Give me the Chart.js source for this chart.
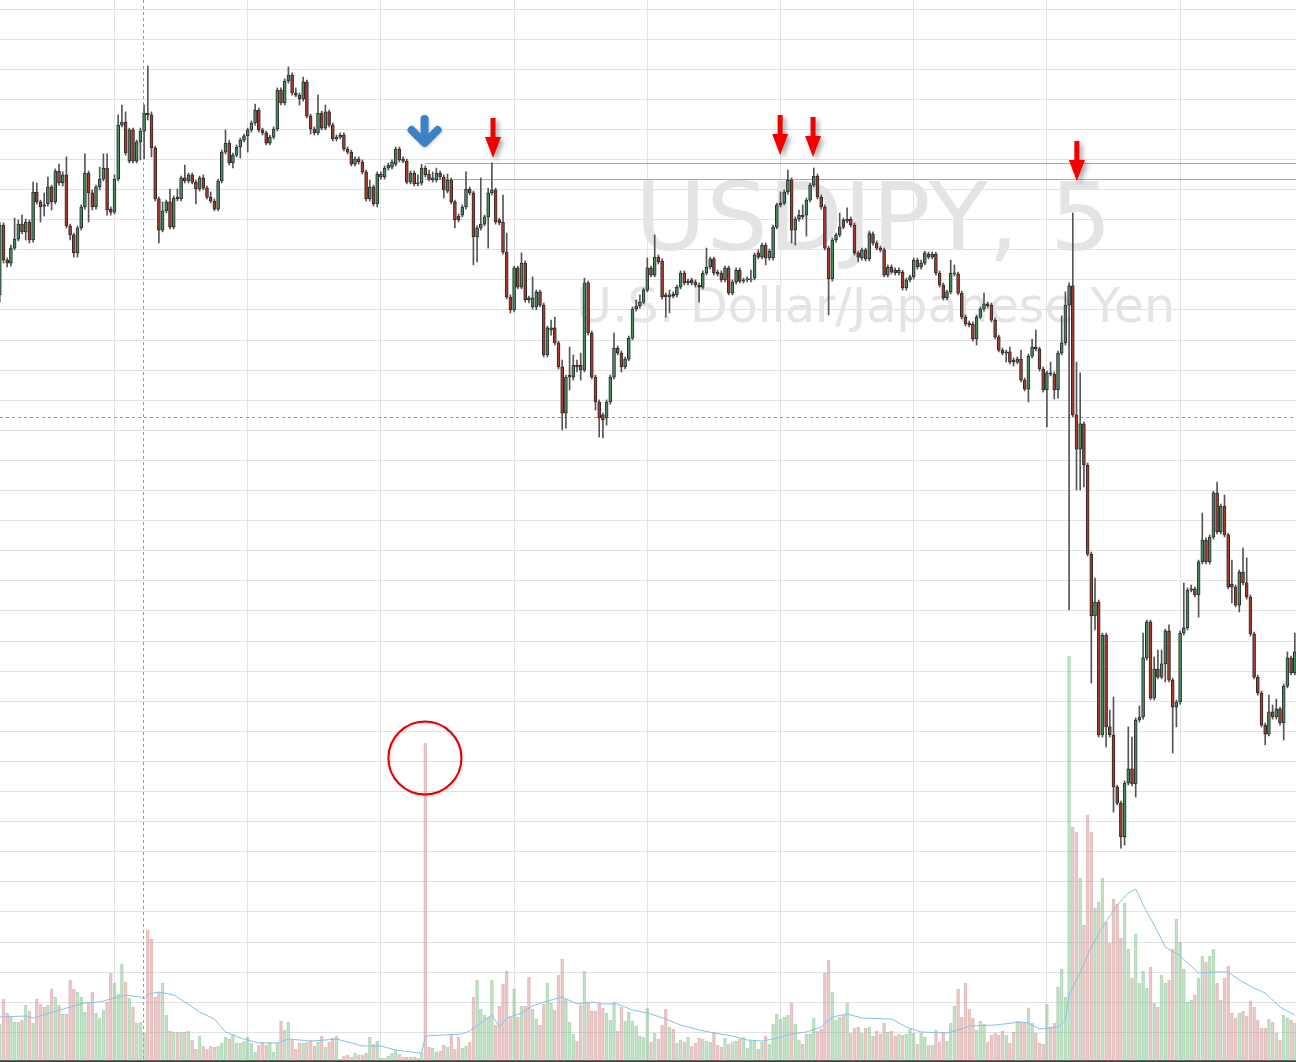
<!DOCTYPE html>
<html><head><meta charset="utf-8">
<script src="https://cdn.jsdelivr.net/npm/chart.js@4.4.1/dist/chart.umd.min.js"></script>
<style>html,body{margin:0;padding:0;background:#fff;overflow:hidden}canvas{display:block}</style>
</head><body>
<canvas id="c" width="1296" height="1062"></canvas>
<script>
const symbolTitle = 'USDJPY, 5';
const symbolName = 'U.S. Dollar/Japanese Yen';

const opens = [
101.347,101.58,101.463,101.453,101.503,101.533,101.583,101.557,101.59,101.53,
101.69,101.657,101.647,101.65,101.707,101.657,101.76,101.72,101.747,101.577,
101.547,101.487,101.57,101.64,101.753,101.687,101.64,101.707,101.733,101.77,
101.633,101.623,101.733,101.913,101.923,101.793,101.897,101.793,101.857,101.893,
101.953,101.947,101.837,101.667,101.563,101.627,101.657,101.573,101.673,101.667,
101.737,101.727,101.747,101.723,101.70,101.737,101.703,101.673,101.66,101.633,
101.727,101.823,101.853,101.787,101.813,101.84,101.863,101.877,101.897,101.92,
101.963,101.897,101.887,101.853,101.873,101.90,102.03,101.987,102.06,102.08,
102.02,102.013,102.00,102.057,101.943,101.90,101.887,101.953,101.903,101.957,
101.913,101.867,101.873,101.88,101.833,101.823,101.783,101.80,101.79,101.757,
101.667,101.707,101.65,101.74,101.74,101.77,101.773,101.783,101.833,101.80,
101.793,101.723,101.753,101.72,101.72,101.77,101.75,101.73,101.73,101.753,
101.74,101.693,101.73,101.657,101.61,101.613,101.64,101.70,101.687,101.54,
101.57,101.583,101.607,101.687,101.697,101.597,101.59,101.49,101.34,101.297,
101.437,101.373,101.453,101.337,101.307,101.307,101.357,101.313,101.147,101.23,
101.237,101.187,101.107,100.953,101.073,101.073,101.113,101.113,101.097,101.387,
101.22,101.073,100.99,100.947,100.937,100.99,101.073,101.17,101.153,101.107,
101.133,101.203,101.30,101.31,101.323,101.363,101.437,101.413,101.473,101.46,
101.347,101.34,101.35,101.347,101.373,101.42,101.387,101.397,101.39,101.38,
101.373,101.42,101.44,101.467,101.423,101.42,101.397,101.437,101.353,101.39,
101.43,101.393,101.397,101.397,101.403,101.487,101.473,101.513,101.47,101.47,
101.573,101.647,101.653,101.69,101.73,101.563,101.60,101.613,101.613,101.663,
101.713,101.743,101.673,101.64,101.503,101.40,101.53,101.547,101.597,101.593,
101.60,101.58,101.487,101.47,101.497,101.467,101.55,101.52,101.503,101.497,
101.413,101.44,101.43,101.42,101.423,101.37,101.397,101.407,101.463,101.44,
101.453,101.483,101.473,101.483,101.42,101.38,101.337,101.357,101.417,101.417,
101.353,101.273,101.253,101.25,101.20,101.273,101.30,101.317,101.313,101.263,
101.207,101.163,101.153,101.157,101.13,101.123,101.133,101.063,101.033,101.143,
101.173,101.167,101.10,101.03,101.087,101.083,101.03,101.153,101.187,101.313,
101.377,100.947,100.833,100.917,100.78,100.483,100.277,100.323,99.88,100.213,
99.907,99.88,99.707,99.653,99.54,99.72,99.767,99.717,99.93,99.94,
100.137,100.257,100.003,100.10,100.073,100.117,100.227,100.063,99.973,99.99,
100.22,100.237,100.363,100.367,100.347,100.457,100.53,100.457,100.54,100.687,
100.557,100.643,100.547,100.383,100.373,100.313,100.423,100.387,100.34,100.217,
100.073,100.02,99.913,99.883,99.957,99.94,99.967,99.92,100.043,100.137,
100.087];

const highs = [
101.59,101.587,101.47,101.513,101.603,101.597,101.613,101.60,101.597,101.723,
101.72,101.663,101.687,101.74,101.713,101.767,101.783,101.757,101.807,101.583,
101.553,101.577,101.647,101.817,101.76,101.697,101.713,101.773,101.817,101.817,
101.64,101.747,101.947,101.98,101.957,101.903,101.903,101.863,101.903,101.98,
102.11,101.957,101.843,101.673,101.657,101.663,101.70,101.677,101.70,101.743,
101.78,101.753,101.753,101.73,101.743,101.747,101.71,101.69,101.667,101.733,
101.83,101.897,101.863,101.82,101.847,101.87,101.883,101.903,101.927,101.983,
101.97,101.903,101.893,101.88,101.907,102.037,102.037,102.067,102.107,102.087,
102.037,102.02,102.073,102.063,101.95,101.907,102.013,101.96,101.98,101.963,
101.92,101.88,101.887,101.887,101.84,101.83,101.807,101.807,101.797,101.763,
101.73,101.713,101.757,101.757,101.777,101.787,101.797,101.84,101.84,101.807,
101.80,101.76,101.76,101.747,101.783,101.777,101.763,101.757,101.77,101.76,
101.747,101.75,101.737,101.663,101.617,101.647,101.757,101.707,101.693,101.577,
101.737,101.613,101.703,101.787,101.703,101.603,101.68,101.553,101.347,101.443,
101.443,101.487,101.46,101.343,101.407,101.363,101.363,101.32,101.243,101.263,
101.273,101.193,101.13,101.08,101.173,101.147,101.13,101.153,101.403,101.393,
101.227,101.08,100.997,100.953,100.997,101.08,101.22,101.177,101.16,101.14,
101.21,101.307,101.33,101.347,101.37,101.47,101.443,101.547,101.48,101.467,
101.353,101.363,101.357,101.38,101.427,101.427,101.40,101.403,101.397,101.387,
101.427,101.503,101.473,101.473,101.43,101.427,101.443,101.443,101.397,101.437,
101.437,101.403,101.407,101.43,101.487,101.497,101.52,101.52,101.50,101.58,
101.653,101.69,101.697,101.763,101.737,101.607,101.63,101.647,101.67,101.72,
101.77,101.75,101.68,101.647,101.51,101.537,101.553,101.62,101.603,101.637,
101.607,101.587,101.493,101.503,101.503,101.56,101.557,101.527,101.51,101.503,
101.447,101.447,101.437,101.437,101.43,101.403,101.413,101.47,101.47,101.463,
101.493,101.49,101.49,101.49,101.427,101.387,101.363,101.463,101.447,101.423,
101.36,101.28,101.26,101.257,101.28,101.307,101.353,101.323,101.32,101.27,
101.213,101.17,101.163,101.173,101.137,101.14,101.163,101.07,101.15,101.20,
101.23,101.173,101.107,101.093,101.123,101.09,101.16,101.277,101.357,101.387,
101.62,101.123,101.087,100.923,100.787,100.49,100.403,100.33,100.22,100.22,
99.963,100.007,99.713,99.66,99.727,99.907,99.873,99.937,99.977,100.22,
100.263,100.263,100.14,100.163,100.163,100.233,100.247,100.07,99.997,100.227,
100.387,100.37,100.38,100.373,100.463,100.62,100.537,100.547,100.693,100.723,
100.65,100.68,100.553,100.463,100.38,100.43,100.503,100.47,100.347,100.223,
100.08,100.027,99.92,100.013,99.98,100.0,99.973,100.05,100.157,100.143,
100.22];

const lows = [
101.323,101.453,101.44,101.443,101.497,101.527,101.55,101.53,101.52,101.523,
101.65,101.59,101.61,101.643,101.63,101.65,101.713,101.71,101.57,101.53,
101.473,101.473,101.563,101.633,101.59,101.63,101.633,101.697,101.727,101.613,
101.613,101.617,101.727,101.907,101.813,101.787,101.787,101.787,101.797,101.80,
101.93,101.807,101.66,101.52,101.557,101.62,101.567,101.567,101.66,101.66,
101.72,101.72,101.717,101.65,101.693,101.697,101.667,101.653,101.627,101.627,
101.72,101.817,101.78,101.77,101.807,101.803,101.857,101.823,101.89,101.913,
101.89,101.88,101.847,101.847,101.867,101.893,101.98,101.98,102.053,102.013,
102.007,101.98,101.993,101.937,101.883,101.88,101.88,101.897,101.897,101.907,
101.86,101.86,101.867,101.827,101.817,101.777,101.777,101.783,101.75,101.66,
101.66,101.643,101.64,101.733,101.733,101.763,101.767,101.777,101.79,101.787,
101.717,101.717,101.71,101.71,101.713,101.74,101.727,101.723,101.723,101.733,
101.67,101.687,101.65,101.57,101.59,101.607,101.633,101.68,101.447,101.457,
101.563,101.577,101.503,101.68,101.583,101.58,101.483,101.333,101.287,101.29,
101.367,101.367,101.323,101.32,101.30,101.297,101.307,101.14,101.14,101.213,
101.18,101.10,100.897,100.903,101.03,101.063,101.09,101.063,101.09,101.213,
101.067,100.963,100.873,100.87,100.913,100.983,101.067,101.147,101.09,101.10,
101.127,101.197,101.293,101.303,101.317,101.357,101.407,101.407,101.45,101.333,
101.273,101.287,101.337,101.34,101.367,101.38,101.38,101.38,101.373,101.323,
101.367,101.413,101.433,101.413,101.41,101.39,101.39,101.347,101.347,101.383,
101.387,101.387,101.39,101.39,101.397,101.467,101.467,101.447,101.463,101.463,
101.567,101.64,101.647,101.683,101.52,101.513,101.593,101.60,101.543,101.657,
101.707,101.667,101.633,101.497,101.28,101.393,101.523,101.54,101.567,101.587,
101.573,101.48,101.457,101.463,101.46,101.46,101.513,101.497,101.49,101.407,
101.407,101.417,101.413,101.413,101.363,101.363,101.39,101.40,101.433,101.433,
101.447,101.467,101.467,101.413,101.373,101.33,101.33,101.35,101.41,101.347,
101.267,101.243,101.24,101.193,101.18,101.267,101.293,101.303,101.257,101.20,
101.157,101.147,101.123,101.117,101.11,101.117,101.057,101.027,100.99,101.137,
101.16,101.093,101.023,100.907,101.077,101.00,101.003,101.147,101.18,100.297,
100.94,100.697,100.697,100.707,100.477,100.053,100.23,99.873,99.873,99.84,
99.873,99.623,99.647,99.503,99.513,99.713,99.71,99.673,99.923,99.933,
100.13,99.997,99.997,100.067,100.067,100.057,100.057,99.82,99.907,99.983,
100.213,100.23,100.357,100.34,100.273,100.45,100.45,100.45,100.533,100.55,
100.55,100.54,100.367,100.32,100.307,100.29,100.38,100.333,100.21,100.067,
100.013,99.907,99.847,99.877,99.933,99.933,99.913,99.863,100.037,100.08,
100.08];

const closes = [
101.58,101.463,101.453,101.503,101.533,101.583,101.557,101.59,101.53,101.69,
101.657,101.64,101.643,101.707,101.657,101.76,101.72,101.747,101.577,101.547,
101.487,101.57,101.64,101.753,101.687,101.64,101.707,101.733,101.77,101.63,
101.623,101.733,101.913,101.923,101.82,101.897,101.793,101.857,101.893,101.953,
101.947,101.837,101.667,101.563,101.627,101.657,101.573,101.67,101.667,101.737,
101.727,101.747,101.723,101.70,101.737,101.703,101.673,101.66,101.633,101.727,
101.823,101.853,101.787,101.813,101.84,101.863,101.877,101.897,101.92,101.963,
101.897,101.887,101.853,101.873,101.90,102.03,101.987,102.06,102.08,102.02,
102.013,102.00,102.057,101.943,101.90,101.887,101.953,101.903,101.957,101.913,
101.867,101.873,101.88,101.833,101.823,101.783,101.80,101.79,101.757,101.667,
101.707,101.65,101.75,101.75,101.77,101.78,101.79,101.833,101.797,101.793,
101.723,101.753,101.717,101.717,101.77,101.747,101.733,101.737,101.753,101.74,
101.697,101.73,101.657,101.597,101.597,101.64,101.70,101.687,101.54,101.57,
101.583,101.607,101.687,101.697,101.59,101.587,101.49,101.34,101.297,101.437,
101.373,101.453,101.33,101.33,101.337,101.357,101.313,101.147,101.237,101.237,
101.187,101.107,100.953,101.073,101.08,101.113,101.107,101.097,101.387,101.22,
101.073,100.99,100.937,100.93,100.99,101.073,101.17,101.153,101.107,101.133,
101.203,101.30,101.31,101.323,101.363,101.437,101.413,101.473,101.457,101.34,
101.34,101.347,101.343,101.373,101.42,101.387,101.393,101.387,101.38,101.373,
101.42,101.44,101.467,101.42,101.417,101.397,101.437,101.353,101.39,101.43,
101.393,101.397,101.40,101.40,101.48,101.473,101.513,101.47,101.493,101.573,
101.647,101.653,101.69,101.73,101.563,101.60,101.613,101.607,101.663,101.713,
101.743,101.673,101.64,101.503,101.40,101.53,101.547,101.573,101.573,101.60,
101.58,101.487,101.473,101.497,101.467,101.553,101.52,101.503,101.497,101.413,
101.44,101.423,101.42,101.43,101.37,101.397,101.407,101.463,101.44,101.453,
101.487,101.473,101.483,101.42,101.38,101.337,101.357,101.42,101.42,101.353,
101.273,101.25,101.247,101.20,101.273,101.30,101.317,101.31,101.263,101.207,
101.163,101.153,101.157,101.123,101.123,101.133,101.063,101.033,101.143,101.173,
101.167,101.10,101.03,101.087,101.083,101.03,101.153,101.187,101.313,101.377,
100.947,100.833,100.917,100.78,100.483,100.277,100.323,99.88,100.213,99.907,
99.88,99.707,99.653,99.54,99.72,99.767,99.717,99.93,99.94,100.137,
100.257,100.003,100.10,100.073,100.117,100.227,100.063,99.973,99.99,100.22,
100.237,100.363,100.367,100.347,100.457,100.53,100.457,100.54,100.687,100.557,
100.643,100.547,100.373,100.373,100.313,100.423,100.387,100.34,100.217,100.073,
100.02,99.913,99.883,99.957,99.94,99.967,99.92,100.043,100.137,100.087,
100.157];

const volumes = [
74,124,96,88,78,78,82,112,100,76,
124,114,108,112,144,128,112,94,94,162,
144,138,128,98,118,138,96,86,102,118,
176,156,134,194,158,126,108,76,78,56,
262,244,128,138,156,92,60,58,58,58,
58,60,42,24,50,30,24,30,28,30,
36,48,44,54,36,36,40,48,36,18,
32,38,32,38,18,36,80,62,78,44,
24,36,36,38,42,30,38,50,28,38,
46,50,4,10,12,8,16,12,12,16,
48,34,40,6,6,10,16,22,14,8,
8,8,8,6,16,636,28,26,18,20,
32,28,52,24,48,26,30,38,128,162,
104,92,88,162,72,110,154,180,88,144,
88,110,110,168,104,84,72,114,156,116,
102,172,204,124,78,54,40,112,180,118,
100,100,114,106,96,82,118,60,108,80,
98,80,70,50,48,106,38,56,44,72,
104,68,64,36,42,38,48,30,36,46,
44,40,38,58,32,28,46,34,38,40,
44,48,26,40,40,24,38,50,34,74,
94,84,88,92,116,74,42,34,54,54,
86,60,64,176,202,138,82,88,92,116,
56,66,68,56,66,68,50,60,54,76,
58,60,50,54,52,54,64,56,34,56,
48,32,32,62,38,58,40,76,110,144,
88,156,104,86,62,80,74,38,52,56,
52,60,52,36,58,80,78,78,106,76,
56,36,34,114,68,76,148,184,128,810,
468,458,366,272,492,458,306,318,366,278,
236,324,314,246,316,224,166,254,156,180,
146,188,116,108,172,156,162,224,284,238,
184,118,122,132,166,210,198,210,224,156,
122,166,190,96,86,96,100,90,120,108,
82,66,66,84,78,56,42,92,86,82,
76];

const maBars = [0,7,9,18,23,27,31,34,38,39,40,43,47,50,54,58,61,65,70,75,78,84,88,91,94,98,103,107,111,114,115,125,127,130,133,135,137,141,144,147,152,156,160,163,167,171,175,180,184,189,193,198,202,206,209,214,218,222,225,229,233,241,245,249,256,259,262,269,276,278,281,286,288,289,292,295,298,302,305,307,309,312,315,319,324,329,332,335,339,342,346,350];
const maValues = [88,90,86,106,116,118,126,132,128,124,134,138,132,118,98,84,58,46,36,36,44,40,42,44,38,30,30,22,18,16,50,54,60,76,92,68,86,96,110,118,128,114,118,114,114,102,96,84,72,62,56,50,42,40,44,54,58,68,88,94,86,84,68,58,56,62,70,72,78,76,64,68,82,132,178,228,268,312,336,344,312,272,228,210,176,178,178,162,146,136,108,92];

// grid / markers
const gridBars = [31, 67, 103, 139, 175, 211, 247, 283, 319];
const gridTopPrice = 102.30;
const gridStepPrice = 0.10033;
const gridCount = 35;
const levelPrices = [101.788, 101.732];
const levelStartBar = 114.9;
const crossBar = 38.8;
const crossPrice = 100.941;
const redArrowBars = [133.3, 210.9, 219.8, 291.1];
const redArrowPrices = [101.803, 101.813, 101.807, 101.727];
const blueArrowBar = 114.8;
const blueArrowPrice = 101.84;
const circleBar = 114.9;
const circleVolume = 606;

const N = opens.length;
const idx = Array.from({length: N}, (_, i) => i);
const isUp = i => closes[i] >= opens[i];

const bodyData = idx.map(i => ({x: i, y: [opens[i], closes[i]]}));
const wickData = idx.map(i => ({x: i, y: [lows[i], highs[i]]}));
const volData = idx.map(i => ({x: i, y: volumes[i]}));
const maData = maBars.map((b, k) => ({x: b, y: maValues[k]}));

const bgPlugin = {
  id: 'bg',
  beforeDatasetsDraw(chart) {
    const {ctx, scales: {x, y}, chartArea: a} = chart;
    ctx.save();
    // watermark
    ctx.fillStyle = '#e4e4e4';
    ctx.textBaseline = 'alphabetic';
    ctx.textAlign = 'left';
    ctx.font = '94px "DejaVu Sans"';
    let w = ctx.measureText(symbolTitle).width;
    ctx.save(); ctx.translate(635, 250); ctx.scale(477 / w, 1); ctx.fillText(symbolTitle, 0, 0); ctx.restore();
    ctx.font = '48px "DejaVu Sans"';
    w = ctx.measureText(symbolName).width;
    ctx.save(); ctx.translate(576, 322); ctx.scale(599 / w, 1); ctx.fillText(symbolName, 0, 0); ctx.restore();
    // level lines
    ctx.strokeStyle = '#6cbfcb';
    ctx.lineWidth = 1;
    const xs = x.getPixelForValue(levelStartBar);
    levelPrices.forEach(p => {
      const py = Math.round(y.getPixelForValue(p)) + 0.5;
      ctx.beginPath(); ctx.moveTo(xs, py); ctx.lineTo(a.right, py); ctx.stroke();
    });
    // crosshair
    ctx.strokeStyle = '#9a9a9a';
    ctx.setLineDash([3, 3]);
    const cx = Math.round(x.getPixelForValue(crossBar)) + 0.5;
    const cy = Math.round(y.getPixelForValue(crossPrice)) + 0.5;
    ctx.beginPath(); ctx.moveTo(cx, a.top); ctx.lineTo(cx, a.bottom); ctx.stroke();
    ctx.beginPath(); ctx.moveTo(a.left, cy); ctx.lineTo(a.right, cy); ctx.stroke();
    ctx.restore();
  },
  afterDatasetsDraw(chart) {
    const {ctx, scales: {x, y, vol}} = chart;
    ctx.save();
    // red arrows
    redArrowBars.forEach((b, k) => {
      const ax = x.getPixelForValue(b);
      const ty = y.getPixelForValue(redArrowPrices[k]);
      ctx.save();
      ctx.shadowColor = 'rgba(0,0,0,0.35)';
      ctx.shadowBlur = 5; ctx.shadowOffsetX = 3; ctx.shadowOffsetY = 3;
      ctx.fillStyle = '#f20000';
      ctx.beginPath();
      ctx.moveTo(ax - 2.5, ty - 40);
      ctx.lineTo(ax + 2.5, ty - 40);
      ctx.lineTo(ax + 2.5, ty - 21);
      ctx.lineTo(ax + 8, ty - 21);
      ctx.lineTo(ax, ty);
      ctx.lineTo(ax - 8, ty - 21);
      ctx.lineTo(ax - 2.5, ty - 21);
      ctx.closePath();
      ctx.fill();
      ctx.restore();
    });
    // blue arrow
    const bx = x.getPixelForValue(blueArrowBar);
    const by = y.getPixelForValue(blueArrowPrice);
    ctx.save();
    ctx.shadowColor = 'rgba(0,0,0,0.2)'; ctx.shadowBlur = 3; ctx.shadowOffsetX = 1; ctx.shadowOffsetY = 1;
    ctx.strokeStyle = '#3b82c4';
    ctx.lineWidth = 8; ctx.lineCap = 'round'; ctx.lineJoin = 'round';
    ctx.beginPath();
    ctx.moveTo(bx, by - 28); ctx.lineTo(bx, by - 5);
    ctx.moveTo(bx - 13, by - 17); ctx.lineTo(bx, by - 4); ctx.lineTo(bx + 13, by - 17);
    ctx.stroke();
    ctx.restore();
    // circle
    const ccx = x.getPixelForValue(circleBar);
    const ccy = vol.getPixelForValue(circleVolume);
    ctx.save();
    ctx.shadowColor = 'rgba(0,0,0,0.2)'; ctx.shadowBlur = 3; ctx.shadowOffsetX = 1; ctx.shadowOffsetY = 1;
    ctx.strokeStyle = '#e00000'; ctx.lineWidth = 2;
    ctx.beginPath(); ctx.arc(ccx, ccy, 36.5, 0, Math.PI * 2); ctx.stroke();
    ctx.restore();
    ctx.restore();
  }
};

const xMin = 0.2 / 3.7;
const xMax = xMin + 1296 / 3.7;
const pMax = 102.33;
const pMin = pMax - 1061 / 300;

new Chart(document.getElementById('c'), {
  type: 'bar',
  data: {
    datasets: [
      {
        type: 'bar', data: volData, yAxisID: 'vol', order: 4, grouped: false,
        barThickness: 3, borderWidth: 1, borderSkipped: false,
        backgroundColor: ctx => isUp(ctx.dataIndex) ? 'rgba(150,210,160,0.25)' : 'rgba(225,160,160,0.25)',
        borderColor: ctx => isUp(ctx.dataIndex) ? 'rgba(120,185,130,0.5)' : 'rgba(205,140,140,0.5)'
      },
      {
        type: 'line', data: maData, yAxisID: 'vol', order: 3,
        borderColor: '#86c1e6', borderWidth: 1, pointRadius: 0, tension: 0, fill: false
      },
      {
        type: 'bar', data: wickData, yAxisID: 'y', order: 2, grouped: false,
        barThickness: 1, borderWidth: 0, backgroundColor: '#555555'
      },
      {
        type: 'bar', data: bodyData, yAxisID: 'y', order: 1, grouped: false,
        barThickness: 3, minBarLength: 1, borderWidth: 1, borderSkipped: false,
        backgroundColor: ctx => isUp(ctx.dataIndex) ? '#458d60' : '#a93a2b',
        borderColor: '#2b2b2b'
      }
    ]
  },
  options: {
    responsive: false, animation: false, devicePixelRatio: 1,
    layout: { padding: { left: 0, right: 0, top: 0, bottom: 1 }, autoPadding: false },
    plugins: { legend: { display: false }, tooltip: { enabled: false } },
    scales: {
      x: {
        type: 'linear', min: xMin, max: xMax, offset: false,
        ticks: { display: false },
        grid: { color: '#e2e2e2', drawTicks: false, lineWidth: 1, offset: false },
        border: { display: true, color: '#3a3a3a', width: 2 },
        afterBuildTicks: s => { s.ticks = gridBars.map(v => ({value: v})); }
      },
      y: {
        type: 'linear', position: 'left', min: pMin, max: pMax,
        ticks: { display: false },
        grid: { color: '#e2e2e2', drawTicks: false, lineWidth: 1 },
        border: { display: false },
        afterBuildTicks: s => { s.ticks = Array.from({length: gridCount}, (_, k) => ({value: gridTopPrice - k * gridStepPrice})); }
      },
      vol: { type: 'linear', display: false, min: 0, max: 2122 }
    }
  },
  plugins: [bgPlugin]
});
</script>
</body></html>
